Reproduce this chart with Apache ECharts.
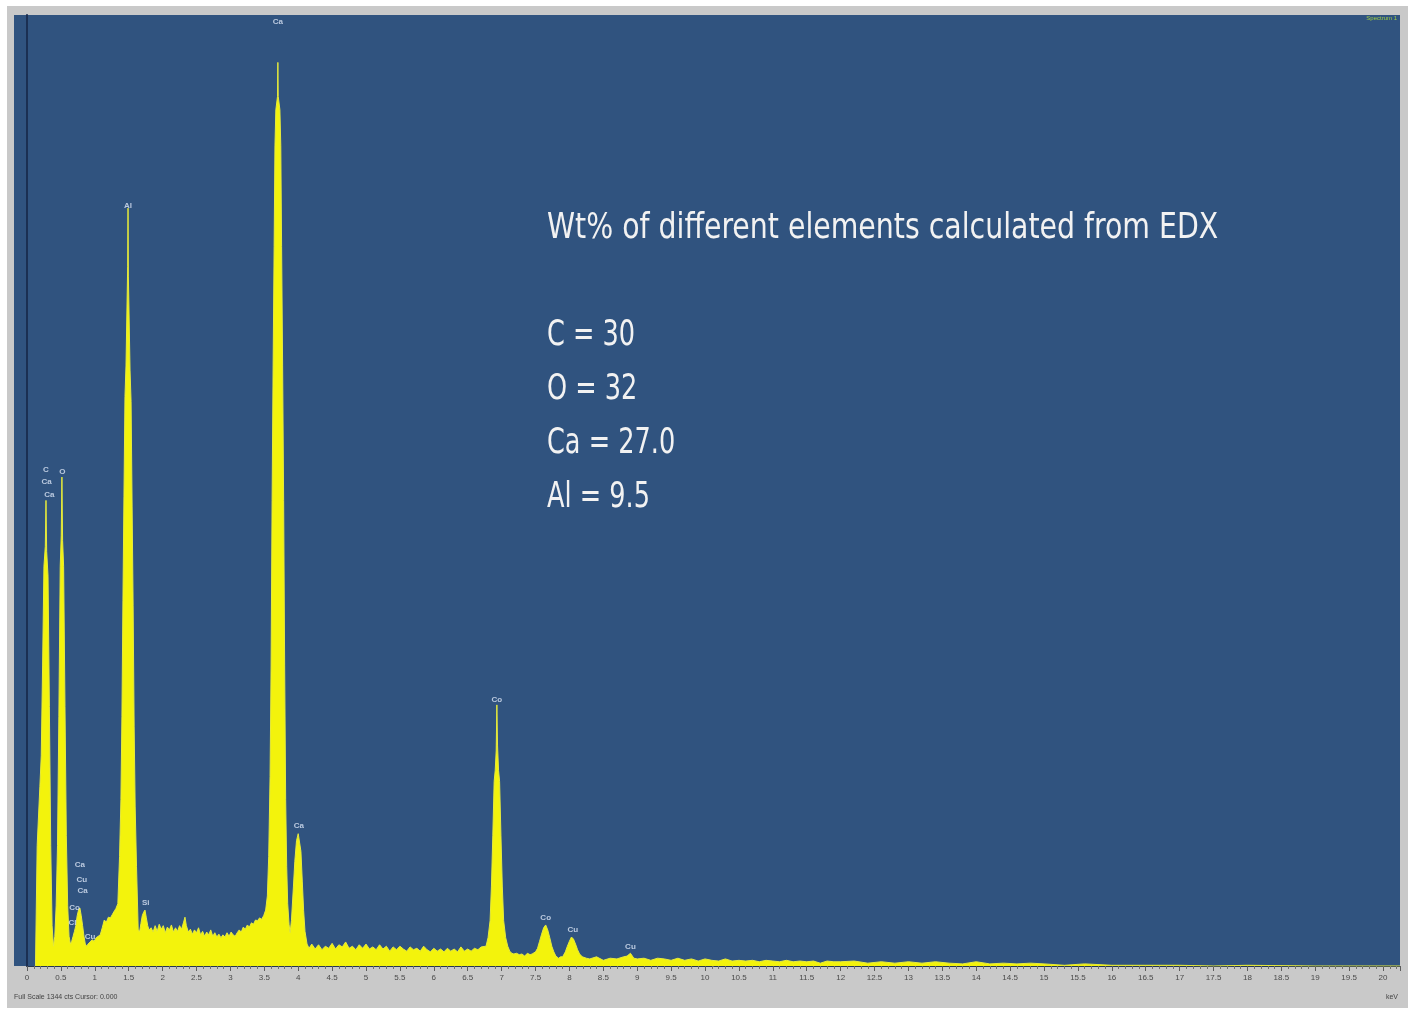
<!DOCTYPE html>
<html>
<head>
<meta charset="utf-8">
<title>EDX spectrum</title>
<script src="https://cdn.jsdelivr.net/npm/echarts@6/dist/echarts.min.js"></script>
<style>
  html, body { margin: 0; padding: 0; background: #ffffff; }
  #chart { width: 1413px; height: 1010px; }
</style>
</head>
<body>
<div id="chart"></div>
<script>
// EDX spectrum: [energy (keV), counts]
const spectrumLow = [
  [0.125, 0], [0.15, 170], [0.17, 212], [0.19, 254], [0.21, 297], [0.23, 424], [0.25, 565],
  [0.27, 593], [0.28, 658], [0.29, 586], [0.31, 551], [0.33, 367], [0.35, 170], [0.37, 57],
  [0.39, 28], [0.41, 42], [0.43, 85], [0.45, 170], [0.47, 353], [0.49, 565], [0.505, 608],
  [0.515, 691], [0.525, 601], [0.54, 565], [0.56, 367], [0.58, 184], [0.60, 85], [0.62, 42],
  [0.64, 31], [0.66, 35], [0.68, 42], [0.70, 49], [0.72, 57], [0.74, 71], [0.76, 79],
  [0.78, 82], [0.80, 71], [0.82, 57], [0.84, 42], [0.86, 31], [0.88, 28], [0.90, 31],
  [0.93, 34], [0.96, 37], [0.99, 35], [1.02, 40], [1.05, 42], [1.08, 44], [1.11, 54],
  [1.14, 65], [1.17, 62], [1.20, 69], [1.23, 68], [1.26, 73], [1.29, 78], [1.31, 81],
  [1.34, 88], [1.365, 155], [1.385, 235], [1.40, 353], [1.415, 517], [1.43, 664],
  [1.445, 805], [1.46, 848], [1.485, 989], [1.49, 1071], [1.495, 975], [1.52, 841],
  [1.535, 798], [1.55, 650], [1.565, 509], [1.58, 339], [1.595, 226], [1.615, 141],
  [1.64, 52], [1.66, 48], [1.68, 60], [1.70, 71], [1.72, 76], [1.74, 79], [1.76, 68],
  [1.78, 57], [1.80, 51], [1.83, 54], [1.86, 48], [1.89, 57], [1.92, 49], [1.95, 59],
  [1.98, 52], [2.01, 57], [2.04, 47], [2.07, 55], [2.10, 51], [2.13, 58], [2.16, 48],
  [2.19, 54], [2.22, 49], [2.25, 57], [2.28, 52], [2.31, 62], [2.33, 69], [2.35, 57],
  [2.38, 48], [2.41, 52], [2.44, 45], [2.47, 51], [2.50, 47], [2.53, 54], [2.56, 44],
  [2.59, 49], [2.62, 42], [2.65, 48], [2.68, 44], [2.71, 51], [2.74, 42], [2.77, 47],
  [2.80, 41], [2.83, 45], [2.86, 40], [2.89, 44], [2.92, 41], [2.95, 47], [2.98, 42],
  [3.01, 48], [3.04, 44], [3.07, 42], [3.10, 47], [3.13, 51], [3.16, 48], [3.19, 55],
  [3.22, 52], [3.25, 58], [3.28, 55], [3.31, 61], [3.34, 59], [3.37, 65], [3.40, 64],
  [3.43, 68], [3.46, 66]
];

const spectrumCa = [
  [3.49, 71], [3.52, 79], [3.545, 99], [3.565, 155], [3.585, 268], [3.60, 424],
  [3.615, 658], [3.63, 848], [3.645, 1017], [3.657, 1159], [3.67, 1210], [3.695, 1229],
  [3.70, 1277], [3.705, 1229], [3.73, 1210], [3.743, 1159], [3.755, 1017], [3.77, 848],
  [3.785, 658], [3.80, 424], [3.815, 235], [3.83, 141], [3.845, 88], [3.865, 59],
  [3.88, 47], [3.90, 64], [3.93, 113], [3.95, 148], [3.975, 177], [4.00, 187],
  [4.02, 189], [4.04, 162], [4.06, 120], [4.08, 78], [4.10, 49], [4.13, 31], [4.16, 25]
];

const spectrumHigh = [
  [4.20, 31], [4.25, 24], [4.30, 30], [4.35, 23], [4.40, 28], [4.45, 25], [4.50, 32],
  [4.55, 24], [4.60, 30], [4.65, 27], [4.70, 34], [4.75, 25], [4.80, 28], [4.85, 23],
  [4.90, 30], [4.95, 25], [5.00, 31], [5.05, 24], [5.10, 27], [5.15, 23], [5.20, 30],
  [5.25, 24], [5.30, 28], [5.35, 21], [5.40, 27], [5.45, 23], [5.50, 28], [5.55, 24],
  [5.60, 21], [5.65, 27], [5.70, 23], [5.75, 25], [5.80, 21], [5.85, 28], [5.90, 23],
  [5.95, 20], [6.00, 25], [6.05, 21], [6.10, 24], [6.15, 20], [6.20, 25], [6.25, 21],
  [6.30, 24], [6.35, 20], [6.40, 27], [6.45, 21], [6.50, 24], [6.55, 21], [6.60, 25],
  [6.65, 23], [6.70, 27], [6.77, 28], [6.80, 40], [6.83, 64], [6.85, 113], [6.87, 184],
  [6.89, 261], [6.905, 276], [6.92, 304], [6.93, 369], [6.94, 311], [6.955, 276],
  [6.97, 261], [6.99, 184], [7.01, 113], [7.03, 64], [7.06, 40], [7.09, 28], [7.12, 21],
  [7.15, 18], [7.18, 17], [7.22, 18], [7.26, 16], [7.30, 17], [7.34, 14], [7.38, 18],
  [7.42, 16], [7.45, 17], [7.50, 20], [7.53, 25], [7.56, 35], [7.59, 45], [7.62, 54],
  [7.65, 58], [7.68, 51], [7.71, 40], [7.74, 28], [7.77, 20], [7.80, 14], [7.84, 11],
  [7.87, 13], [7.90, 13], [7.94, 20], [7.97, 28], [8.00, 35], [8.03, 41], [8.06, 38],
  [8.09, 31], [8.12, 23], [8.15, 17], [8.19, 13], [8.25, 11], [8.30, 10], [8.40, 13],
  [8.50, 8], [8.60, 11], [8.70, 10], [8.80, 13], [8.85, 14], [8.90, 18], [8.95, 11],
  [9.00, 10], [9.10, 11], [9.20, 8], [9.30, 11], [9.40, 10], [9.50, 8], [9.60, 11],
  [9.70, 8], [9.80, 10], [9.90, 7], [10.0, 10], [10.1, 8], [10.2, 7], [10.3, 10],
  [10.4, 7], [10.5, 8], [10.6, 7], [10.7, 8], [10.8, 6], [10.9, 8], [11.0, 7], [11.1, 6],
  [11.2, 8], [11.3, 6], [11.4, 7], [11.5, 6], [11.6, 7], [11.7, 4], [11.8, 7], [11.9, 6],
  [12.0, 6], [12.2, 7], [12.4, 4], [12.6, 6], [12.8, 4], [13.0, 6], [13.2, 4], [13.4, 6],
  [13.6, 4], [13.8, 3], [14.0, 6], [14.2, 3], [14.4, 4], [14.6, 3], [14.8, 4], [15.0, 3],
  [15.3, 1], [15.6, 3], [16.0, 1], [16.5, 1], [17.0, 1], [17.5, 0], [18.0, 1], [19.0, 0],
  [20.0, 0], [20.25, 0]
];

// element markers placed above the peaks
const peakNames  = ['Ca', 'Al', 'C', 'Ca', 'Ca', 'O', 'Ca', 'Cu', 'Ca', 'Co', 'Cl', 'Cu', 'Si', 'Ca', 'Co', 'Co', 'Cu', 'Cu'];
const peakKeV    = [3.70, 1.49, 0.28, 0.29, 0.33, 0.52, 0.78, 0.81, 0.82, 0.70, 0.67, 0.93, 1.75, 4.01, 6.93, 7.65, 8.05, 8.90];
const peakCounts = [1334, 1075, 701, 684, 666, 699, 143, 122, 106, 82, 61, 41, 89, 198, 376, 68, 51, 27];

// weight percentages shown in the annotation block
const wtTitle    = 'Wt% of different elements calculated from EDX';
const wtElements = ['C', 'O', 'Ca', 'Al'];
const wtValues   = ['30', '32', '27.0', '9.5'];

// energy axis
const xMin = 0, xMax = 20.25, xStep = 0.5;
const fullScale = 1344;

const spectrum = spectrumLow.concat(spectrumCa, spectrumHigh);

const chart = echarts.init(document.getElementById('chart'), null, { renderer: 'canvas' });

const bigFont = '"Liberation Sans Narrow", "DejaVu Sans Condensed", "Liberation Sans", sans-serif';

const graphics = [
  { type: 'rect', z: -20, shape: { x: 7, y: 6, width: 1401, height: 1002 }, style: { fill: '#c9c9c9' } },
  { type: 'rect', z: -10, shape: { x: 14, y: 15, width: 1386, height: 951 }, style: { fill: '#30537f' } },
  { type: 'text', z: 10, x: 547, y: 229, scaleX: 0.876,
    style: { text: wtTitle, font: '36px ' + bigFont, fill: '#f2f2f2', verticalAlign: 'middle' } },
  { type: 'text', z: 10, x: 14, y: 997,
    style: { text: 'Full Scale 1344 cts Cursor: 0.000', font: '7px "Liberation Sans", sans-serif', fill: '#444', verticalAlign: 'middle' } },
  { type: 'text', z: 10, x: 1398, y: 997,
    style: { text: 'keV', font: '7px "Liberation Sans", sans-serif', fill: '#444', align: 'right', verticalAlign: 'middle' } },
  { type: 'text', z: 10, x: 1397, y: 18,
    style: { text: 'Spectrum 1', font: '6px "Liberation Sans", sans-serif', fill: '#9dcc45', align: 'right', verticalAlign: 'middle' } }
];
wtElements.forEach((el, i) => {
  graphics.push({
    type: 'text', z: 10, x: 547, y: 336 + i * 54, scaleX: 0.79,
    style: { text: el + ' = ' + wtValues[i], font: '36px ' + bigFont, fill: '#f2f2f2', verticalAlign: 'middle' }
  });
});

chart.setOption({
  animation: false,
  backgroundColor: '#ffffff',
  graphic: graphics,
  grid: { left: 27, right: 13, top: 15, bottom: 44, containLabel: false },
  xAxis: {
    type: 'value',
    min: xMin,
    max: xMax,
    interval: xStep,
    axisLine: { show: true, onZero: false, lineStyle: { color: '#263650', width: 1 } },
    axisTick: { show: true, length: 5, lineStyle: { color: '#5c5c5c' } },
    minorTick: { show: true, splitNumber: 5, length: 3, lineStyle: { color: '#707070' } },
    splitLine: { show: false },
    minorSplitLine: { show: false },
    axisLabel: { fontSize: 8, color: '#4a4a4a', margin: 8, showMaxLabel: false, fontFamily: 'Liberation Sans' }
  },
  yAxis: {
    type: 'value',
    min: 0,
    max: fullScale,
    axisLine: { show: true, lineStyle: { color: '#1b2f52', width: 2 } },
    axisTick: { show: false },
    axisLabel: { show: false },
    splitLine: { show: false }
  },
  series: [
    {
      type: 'line',
      data: spectrum,
      showSymbol: false,
      smooth: false,
      sampling: null,
      lineStyle: { color: '#e6ea3c', width: 1 },
      areaStyle: { color: '#f3f30c', opacity: 1 },
      z: 2
    },
    {
      type: 'scatter',
      symbolSize: 1,
      itemStyle: { color: 'rgba(0,0,0,0)' },
      data: peakNames.map((n, i) => ({ name: n, value: [peakKeV[i], peakCounts[i]] })),
      label: {
        show: true,
        position: 'inside',
        formatter: '{b}',
        fontSize: 8,
        fontWeight: 'bold',
        color: '#dce6f6',
        fontFamily: 'Liberation Sans'
      },
      z: 5
    }
  ]
});
</script>
</body>
</html>
